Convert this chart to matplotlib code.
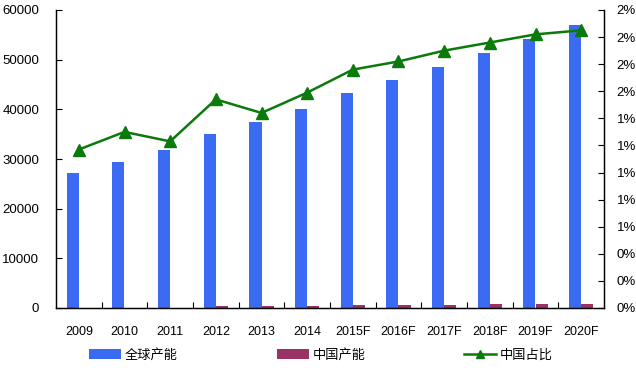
import matplotlib
matplotlib.use("Agg")
import matplotlib.pyplot as plt
import numpy as np
from matplotlib.ticker import FuncFormatter, FixedLocator
from matplotlib.lines import Line2D
from matplotlib.patches import Patch

plt.rcParams['font.family'] = ['Liberation Sans', 'Noto Sans CJK SC', 'DejaVu Sans']

years = ["2009", "2010", "2011", "2012", "2013", "2014", "2015F", "2016F",
         "2017F", "2018F", "2019F", "2020F"]
global_cap = [27200, 29400, 31800, 35000, 37400, 40000, 43200, 45900,
              48500, 51300, 54200, 57000]
china_cap = [0, 0, 0, 430, 460, 500, 650, 680, 700, 850, 850, 880]
china_share = [1.17, 1.30, 1.23, 1.54, 1.44, 1.59, 1.76, 1.82, 1.90, 1.96, 2.02, 2.05]  # percent

labels = ["全球产能", "中国产能", "中国占比"]
blue = "#3A6BF2"
plum = "#993366"
green = "#0A7A0A"

fig = plt.figure(figsize=(6.36, 3.72), dpi=100)
ax = fig.add_axes([56/636, (372-308)/372, (604-56)/636, (308-10)/372])
ax2 = ax.twinx()

x = np.arange(len(years))
w = 0.27
ax.bar(x - w/2, global_cap, width=w, color=blue, zorder=2)
ax.bar(x + w/2, china_cap, width=w, color=plum, zorder=2)
ax.set_xlim(-0.5, len(years) - 0.5)
ax.set_ylim(0, 60000)
ax.set_yticks(np.arange(0, 60001, 10000))
ax.set_xticks(x)
ax.set_xticklabels(years)
ax.xaxis.set_minor_locator(FixedLocator(np.arange(0.5, len(years) - 0.5, 1)))
ax.tick_params(axis='x', which='major', length=0, pad=13, labelsize=9)
ax.tick_params(axis='x', which='minor', length=4, direction='in', width=0.8)
ax.tick_params(axis='y', length=4, direction='in', width=0.8, labelsize=9.5, pad=12)

ax2.plot(x, china_share, color=green, lw=1.8, marker='^', markersize=9,
         markerfacecolor=green, markeredgecolor=green, zorder=3)
ax2.set_ylim(0, 2.2)
ax2.set_yticks(np.arange(0, 2.21, 0.2))
ax2.yaxis.set_major_formatter(FuncFormatter(lambda v, p: f"{round(v + 1e-9):.0f}%"))
ax2.tick_params(axis='y', length=4, direction='in', width=0.8, labelsize=9.5, pad=9)

for a in (ax, ax2):
    a.spines['top'].set_visible(False)
    for s in a.spines.values():
        s.set_linewidth(0.9)
        s.set_color('black')

handles = [Patch(facecolor=blue, edgecolor='none'),
           Patch(facecolor=plum, edgecolor='none'),
           Line2D([0], [0], color=green, lw=1.8, marker='^', markersize=6)]
fig.legend(handles, labels, loc='center', bbox_to_anchor=(0.505, (372-355)/372),
           ncol=3, frameon=False, fontsize=9.5, columnspacing=7.5,
           handlelength=2.4, handleheight=0.8, handletextpad=0.3)

fig.savefig("out.png", dpi=100)
